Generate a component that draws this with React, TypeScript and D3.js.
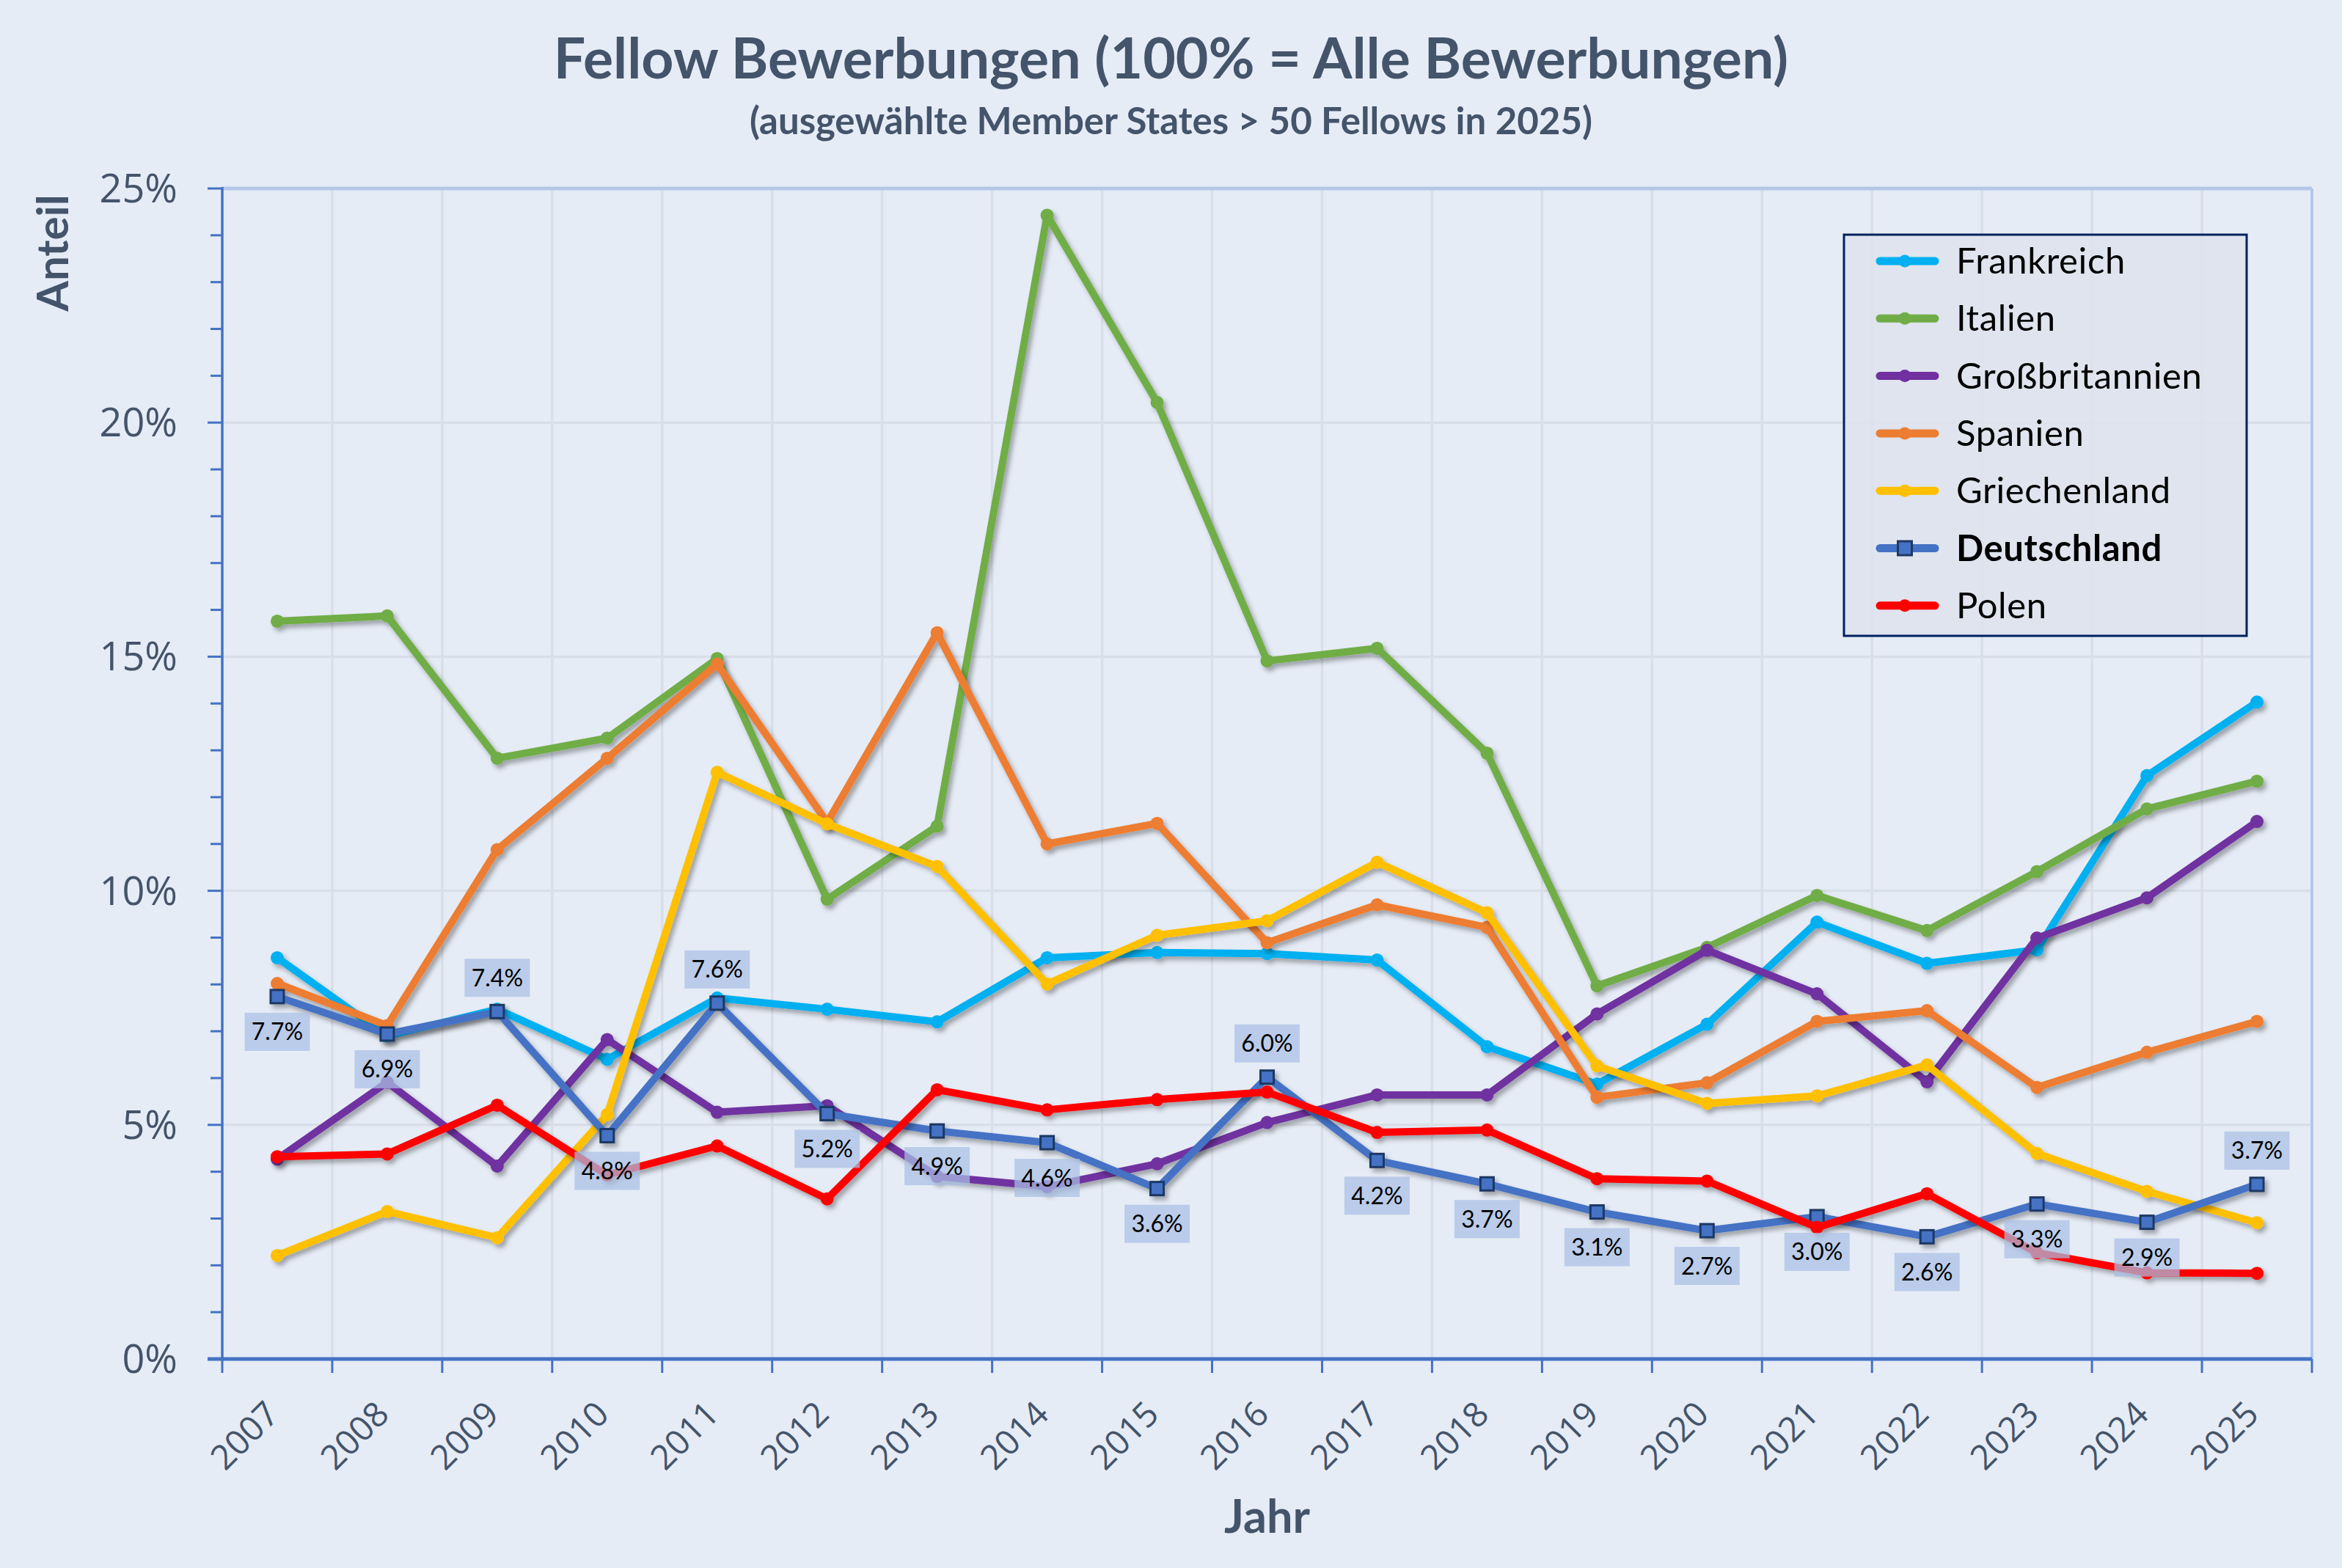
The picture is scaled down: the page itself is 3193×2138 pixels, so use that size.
import * as React from 'react'
import * as d3 from 'd3'

// Jahre und Anteile (in %) je Land
const years = [2007, 2008, 2009, 2010, 2011, 2012, 2013, 2014, 2015, 2016, 2017, 2018, 2019, 2020, 2021, 2022, 2023, 2024, 2025];

const frankreich = [8.57, 6.9, 7.47, 6.4, 7.71, 7.47, 7.2, 8.57, 8.68, 8.66, 8.52, 6.67, 5.87, 7.15, 9.33, 8.45, 8.74, 12.46, 14.03];
const italien = [15.76, 15.87, 12.83, 13.26, 14.96, 9.82, 11.38, 24.43, 20.43, 14.91, 15.18, 12.94, 7.97, 8.79, 9.9, 9.15, 10.41, 11.75, 12.34];
const grossbritannien = [4.27, 5.91, 4.12, 6.82, 5.27, 5.41, 3.9, 3.68, 4.17, 5.05, 5.64, 5.64, 7.37, 8.73, 7.8, 5.92, 8.99, 9.85, 11.48];
const spanien = [8.02, 7.12, 10.88, 12.83, 14.84, 11.46, 15.51, 11.0, 11.44, 8.89, 9.7, 9.22, 5.59, 5.9, 7.21, 7.44, 5.8, 6.55, 7.21];
const griechenland = [2.21, 3.15, 2.59, 5.22, 12.53, 11.43, 10.52, 8.01, 9.05, 9.36, 10.61, 9.53, 6.26, 5.46, 5.62, 6.28, 4.39, 3.58, 2.91];
const deutschland = [7.74, 6.94, 7.42, 4.77, 7.6, 5.24, 4.87, 4.62, 3.64, 6.02, 4.24, 3.74, 3.14, 2.74, 3.04, 2.61, 3.31, 2.92, 3.73];
const polen = [4.32, 4.38, 5.42, 3.93, 4.55, 3.42, 5.75, 5.32, 5.54, 5.7, 4.84, 4.89, 3.85, 3.8, 2.81, 3.53, 2.27, 1.84, 1.83];

// Jahre, deren Datenbeschriftung oberhalb des Punktes steht
const labelAboveYears = [2009, 2011, 2016, 2025];

const yTicks = [0, 5, 10, 15, 20, 25];

const series = [
  { name: 'Frankreich', values: frankreich, color: '#00b0f0' },
  { name: 'Italien', values: italien, color: '#70ad47' },
  { name: 'Großbritannien', values: grossbritannien, color: '#7030a0' },
  { name: 'Spanien', values: spanien, color: '#ed7d31' },
  { name: 'Griechenland', values: griechenland, color: '#ffc000' },
  { name: 'Deutschland', values: deutschland, color: '#4472c4', square: true },
  { name: 'Polen', values: polen, color: '#ff0000' },
];

const W = 3193;
const H = 2138;
const left = 303, right = 3152, top = 257, bottom = 1853;
const textColor = '#44546a';
const axisBlue = '#4472c4';

const App: React.FC = () => {
  const x = d3.scaleBand<number>().domain(years).range([left, right]);
  const y = d3.scaleLinear().domain([0, 25]).range([bottom, top]);
  const cx = (yr: number) => (x(yr) as number) + x.bandwidth() / 2;

  const line = d3.line<number>()
    .x((_, i) => cx(years[i]))
    .y(d => y(d));

  const boundaries = d3.range(years.length + 1).map(i => left + i * x.bandwidth());
  const minorTicks = d3.range(0, 26, 1);

  return (
    <svg width={W} height={H} style={{ position: 'absolute', left: 0, top: 0, display: 'block' }}>
      <defs>
        <filter id="shadow" x="-5%" y="-5%" width="110%" height="110%">
          <feDropShadow dx="4" dy="5" stdDeviation="3" floodColor="#000" floodOpacity="0.32" />
        </filter>
      </defs>
      <rect x={0} y={0} width={W} height={H} fill="#e6ecf6" />

      {/* Titel */}
      <text x={W / 2} y={107} textAnchor="middle" fontFamily="Lato" fontWeight="bold" fontSize={77} fill={textColor}>
        Fellow Bewerbungen (100% = Alle Bewerbungen)
      </text>
      <text x={W / 2} y={183} textAnchor="middle" fontFamily="Lato" fontWeight="bold" fontSize={51} fill={textColor}>
        (ausgewählte Member States &gt; 50 Fellows in 2025)
      </text>

      {/* Gitter */}
      {boundaries.slice(1, -1).map((bx, i) => (
        <line key={'vg' + i} x1={bx} x2={bx} y1={top} y2={bottom} stroke="#d9dfe8" strokeWidth={3.5} />
      ))}
      {yTicks.filter(t => t > 0 && t < 25).map(t => (
        <line key={'hg' + t} x1={left} x2={right} y1={y(t)} y2={y(t)} stroke="#d9dfe8" strokeWidth={3.5} />
      ))}
      <line x1={left} x2={right} y1={top} y2={top} stroke="#b4c7e7" strokeWidth={5} />
      <line x1={right} x2={right} y1={top} y2={bottom} stroke="#b4c7e7" strokeWidth={4} />

      {/* y-Achse */}
      <line x1={left} x2={left} y1={top - 2} y2={bottom} stroke={axisBlue} strokeWidth={3.5} />
      {minorTicks.map(t => (
        <line key={'yt' + t} x1={t % 5 === 0 ? left - 20 : left - 16} x2={left} y1={y(t)} y2={y(t)} stroke={axisBlue} strokeWidth={3} />
      ))}
      {yTicks.map(t => (
        <text key={'yl' + t} x={242} y={y(t)} dy="0.35em" textAnchor="end" fontFamily="Open Sans" fontSize={54} fill={textColor}>
          {t}%
        </text>
      ))}
      <text transform={`translate(93, 345) rotate(-90)`} textAnchor="middle" fontFamily="Lato" fontWeight="bold" fontSize={60} fill={textColor}>
        Anteil
      </text>

      {/* x-Achse */}
      {boundaries.map((bx, i) => (
        <line key={'xt' + i} x1={bx} x2={bx} y1={bottom} y2={bottom + 19} stroke={axisBlue} strokeWidth={3} />
      ))}
      <line x1={left - 20} x2={right} y1={bottom} y2={bottom} stroke={axisBlue} strokeWidth={5} />
      {years.map(yr => (
        <text key={'xl' + yr} transform={`translate(${cx(yr) + 5}, 1931) rotate(-45)`} textAnchor="end" fontFamily="Open Sans" fontSize={47} fill={textColor}>
          {yr}
        </text>
      ))}
      <text x={(left + right) / 2} y={2090} textAnchor="middle" fontFamily="Lato" fontWeight="bold" fontSize={63} fill={textColor}>
        Jahr
      </text>

      {/* Linien */}
      {series.map(s => (
        <g key={s.name} filter="url(#shadow)">
          <path d={line(s.values) as string} fill="none" stroke={s.color} strokeWidth={10} strokeLinejoin="round" strokeLinecap="round" />
          {s.values.map((v, i) => s.square ? (
            <rect key={i} x={cx(years[i]) - 9} y={y(v) - 9} width={18} height={18} fill={s.color} stroke="#1f3864" strokeWidth={3} />
          ) : (
            <circle key={i} cx={cx(years[i])} cy={y(v)} r={9} fill={s.color} />
          ))}
        </g>
      ))}

      {/* Datenbeschriftungen Deutschland */}
      {deutschland.map((v, i) => {
        const above = labelAboveYears.includes(years[i]);
        const ly = y(v) + (above ? -46 : 48);
        return (
          <g key={'dl' + i}>
            <rect x={cx(years[i]) - 44.5} y={ly - 26} width={89} height={52} fill="#a9bfe3" fillOpacity={0.72} />
            <text x={cx(years[i])} y={ly} dy="0.36em" textAnchor="middle" fontFamily="Lato" fontSize={32} fill="#000">
              {v.toFixed(1)}%
            </text>
          </g>
        );
      })}

      {/* Legende */}
      <rect x={2514} y={320} width={549} height={547} fill="#dde3ec" fillOpacity={0.85} stroke="#002060" strokeWidth={3} />
      {series.map((s, i) => {
        const ry = 356 + i * 78.3;
        return (
          <g key={'lg' + s.name}>
            <line x1={2563} x2={2638} y1={ry} y2={ry} stroke={s.color} strokeWidth={11} strokeLinecap="round" />
            {s.square ? (
              <rect x={2597 - 9.5} y={ry - 9.5} width={19} height={19} fill={s.color} stroke="#1f3864" strokeWidth={3} />
            ) : (
              <circle cx={2597} cy={ry} r={8.5} fill={s.color} />
            )}
            <text x={2667} y={ry} dy="0.35em" fontFamily="Lato" fontSize={49} fontWeight={s.square ? 'bold' : 'normal'} letterSpacing={0.6} fill="#000">
              {s.name}
            </text>
          </g>
        );
      })}
    </svg>
  );
};

export default App;
